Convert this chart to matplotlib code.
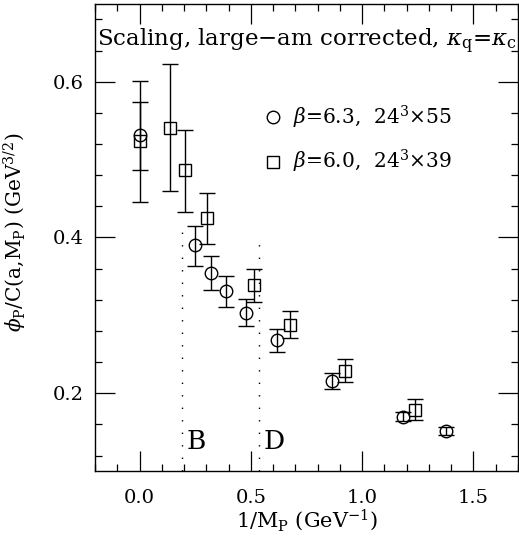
import matplotlib
matplotlib.use("Agg")
import matplotlib.pyplot as plt
from matplotlib.lines import Line2D
from matplotlib.ticker import MultipleLocator

plt.rcParams['font.family'] = 'DejaVu Serif'
plt.rcParams['mathtext.fontset'] = 'dejavuserif'

# beta = 6.3 (circles)
x_b63 = [0.0, 0.249, 0.323, 0.388, 0.479, 0.616, 0.866, 1.183, 1.379]
y_b63 = [0.531, 0.390, 0.354, 0.331, 0.303, 0.268, 0.216, 0.170, 0.151]
lo_b63 = [0.486, 0.363, 0.332, 0.311, 0.286, 0.253, 0.2055, 0.164, 0.146]
hi_b63 = [0.574, 0.415, 0.376, 0.350, 0.321, 0.282, 0.226, 0.176, 0.156]

# beta = 6.0 (squares)
x_b60 = [0.0, 0.138, 0.205, 0.302, 0.513, 0.676, 0.923, 1.238]
y_b60 = [0.524, 0.541, 0.486, 0.425, 0.339, 0.288, 0.229, 0.179]
lo_b60 = [0.446, 0.460, 0.433, 0.391, 0.317, 0.271, 0.215, 0.165]
hi_b60 = [0.601, 0.623, 0.538, 0.457, 0.360, 0.305, 0.244, 0.193]

labels = [r'$\beta$=6.3,  24$^{3}$$\times$55', r'$\beta$=6.0,  24$^{3}$$\times$39']

# dotted lines marking B and D
lines_x = [0.19, 0.535]
lines_top = [0.417, 0.40]
lines_lab = ['B', 'D']

fig = plt.figure(figsize=(5.19, 5.39), dpi=100)
ax = fig.add_axes([0.183, 0.126, 0.815, 0.867])

err63 = [[y - l for y, l in zip(y_b63, lo_b63)], [h - y for y, h in zip(y_b63, hi_b63)]]
err60 = [[y - l for y, l in zip(y_b60, lo_b60)], [h - y for y, h in zip(y_b60, hi_b60)]]

ax.errorbar(x_b63, y_b63, yerr=err63, fmt='o', ms=9, mfc='none', mec='black', mew=1.0,
            ecolor='black', elinewidth=1.0, capsize=6, capthick=1.0)
ax.errorbar(x_b60, y_b60, yerr=err60, fmt='s', ms=8.5, mfc='none', mec='black', mew=1.0,
            ecolor='black', elinewidth=1.0, capsize=6, capthick=1.0)

for xv, top, lab in zip(lines_x, lines_top, lines_lab):
    ax.plot([xv, xv], [0.1, top], color='black', lw=1.0, linestyle=(0, (1, 8)))
    ax.text(xv + 0.022, 0.138, lab, fontsize=19, ha='left', va='center')

ax.text(-0.19, 0.651, r'Scaling, large$-$am corrected, $\kappa_{\rm q}$=$\kappa_{\rm c}$',
        fontsize=16.5, ha='left', va='center', clip_on=False)

handles = [Line2D([], [], marker='o', ls='none', ms=9, mfc='none', mec='black'),
           Line2D([], [], marker='s', ls='none', ms=8.5, mfc='none', mec='black')]
ax.legend(handles, labels, loc='center left', bbox_to_anchor=(0.358, 0.71), frameon=False,
          fontsize=14.5, handlelength=0.8, handletextpad=0.6, labelspacing=0.85)

ax.set_xlim(-0.2, 1.7)
ax.set_ylim(0.1, 0.7)
ax.xaxis.set_major_locator(MultipleLocator(0.5))
ax.xaxis.set_minor_locator(MultipleLocator(0.1))
ax.yaxis.set_major_locator(MultipleLocator(0.2))
ax.yaxis.set_minor_locator(MultipleLocator(0.04))
ax.xaxis.set_major_formatter(plt.FuncFormatter(lambda v, p: f'{v:.1f}'))
ax.yaxis.set_major_formatter(plt.FuncFormatter(lambda v, p: f'{v:.1f}'))
ax.tick_params(which='both', direction='in', top=True, right=True, width=0.9)
ax.tick_params(which='major', length=14.5, labelsize=14)
ax.tick_params(axis='x', which='major', pad=13)
ax.tick_params(axis='y', which='major', pad=8)
ax.tick_params(which='minor', length=5)
for s in ax.spines.values():
    s.set_linewidth(1.0)

ax.set_xlabel(r'1/M$_{\rm P}$ (GeV$^{-1}$)', fontsize=15, labelpad=0)
ax.set_ylabel(r'$\phi_{\rm P}$/C(a,M$_{\rm P}$) (GeV$^{3/2}$)', fontsize=14.5)
ax.yaxis.set_label_coords(-0.156, 0.51)

fig.savefig('out.png', dpi=100)
